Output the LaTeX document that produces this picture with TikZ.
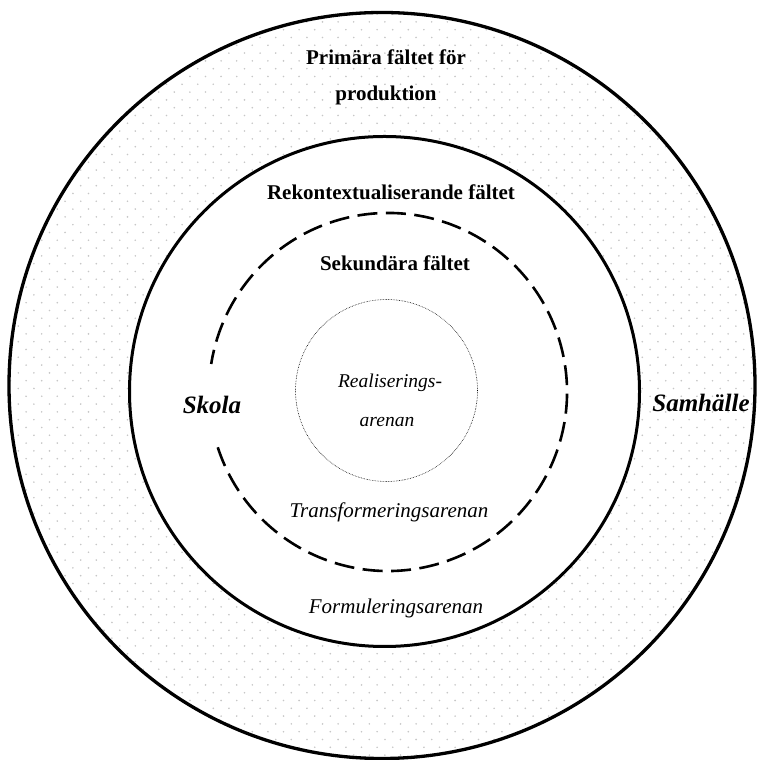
\documentclass[tikz,border=0pt]{standalone}
\usepackage{fontspec}
\setmainfont{Liberation Serif}

\tikzset{
	falt/.style={font=\bfseries\fontsize{21}{23}\selectfont},
	arena/.style={font=\itshape\fontsize{21}{23}\selectfont},
	inrearena/.style={font=\itshape\fontsize{19.5}{21}\selectfont},
	plats/.style={font=\bfseries\itshape\fontsize{25}{27}\selectfont},
	prick/.style={fill=black!22}
}

\begin{document}
\begin{tikzpicture}[x=1pt, y=1pt]
			\useasboundingbox (0,0) rectangle (757,760);
			\coordinate (O) at (382,374.5);
			\coordinate (M) at (384.5,368.5);
			\coordinate (D) at (388,368);
			\coordinate (I) at (386.5,369.5);
			% prickig bakgrund i yttre ringen
			\begin{scope}[even odd rule]
			\clip (O) circle (373) (M) circle (255);
			\foreach \r in {0,...,97}
				\foreach \k in {0,...,48}
					\fill[prick] ({2.7 + mod(\r+1,2)*7.8 + \k*15.6}, {4.9 + \r*7.8}) circle (0.9);
			\end{scope}
			\draw[line width=3.3pt] (O) circle (373);
			\draw[line width=3pt] (M) circle (255);
			\draw[line width=2.6pt, dash pattern=on 20pt off 8.5pt] (D) ++(198:179) arc (198:531:179);
			\draw[line width=0.6pt, densely dotted] (I) circle (91);
			% texter
			\node[falt] (prim1) at (386,703) {Primära fältet för};
			\node[falt] (prim2) at (386,665) {produktion};
			\node[falt] (rekon) at (391,568) {Rekontextualiserande fältet};
			\node[falt] (sekun) at (395,497) {Sekundära fältet};
			\node[inrearena] (real1) at (390,377) {Realiserings-};
			\node[inrearena] (real2) at (387,338) {arenan};
			\node[arena] (trans) at (389,248) {Transformeringsarenan};
			\node[arena] (form) at (396,152) {Formuleringsarenan};
			\node[plats] (skola) at (212,355) {Skola};
			\node[plats] (samh) at (701,357) {Samhälle};
\end{tikzpicture}
\end{document}
